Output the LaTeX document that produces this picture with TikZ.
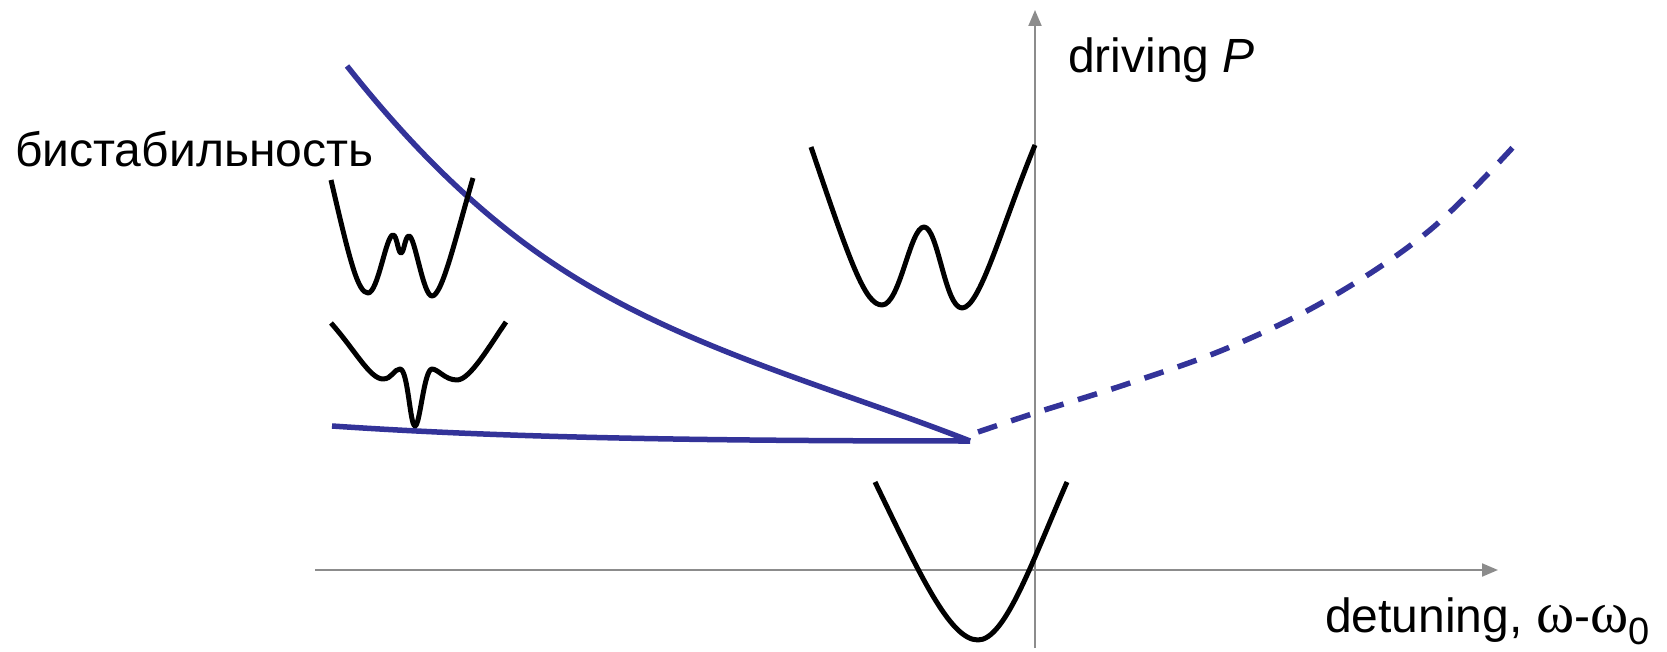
\documentclass[tikz,border=0pt]{standalone}
\usepackage{fontspec}
\setmainfont{Liberation Sans}
\newfontfamily\serifw{Liberation Serif}
\usetikzlibrary{arrows.meta}
\definecolor{curveblue}{RGB}{51,51,153}
\definecolor{axisgray}{RGB}{140,140,140}
\begin{document}
\begin{tikzpicture}[x=1pt,y=-1pt,
  axisline/.style={draw=axisgray, line width=2pt,
    -{Triangle[length=16pt,width=13pt]}},
  branch/.style={draw=curveblue, line width=5.5pt},
  unstable/.style={branch, dash pattern=on 20pt off 15pt},
  potential/.style={draw=black, line width=5pt, line join=round},
  lbl/.style={font=\fontsize{48}{56}\selectfont, inner sep=0pt, anchor=base west}]
\useasboundingbox (0,0) rectangle (1667,652);

% axes
\coordinate (xs) at (315,570);
\coordinate (xe) at (1498,570);
\coordinate (ys) at (1035,648);
\coordinate (ye) at (1035,10);
\draw[axisline] (xs) -- (xe);
\draw[axisline] (ys) -- (ye);

% stable branches
\coordinate (cusp) at (970,441);
\draw[branch] (332,426) .. controls (480,436) and (650,441) .. (cusp);
\draw[branch] (347,66) .. controls (408,143) and (477,214) .. (560,268)
  .. controls (684,349) and (832,387) .. (cusp);
% unstable branch
\draw[unstable] plot[smooth, tension=0.6] coordinates {(978,432) (1035,413) (1130,383) (1230,347) (1330,298) (1430,230) (1515,145)};

% potential: triple well (top left)
\draw[potential] (331,180) .. controls (350,262) and (358,293) .. (368,293)
  .. controls (378,293) and (386,235) .. (393,235)
  .. controls (397,235) and (398,253) .. (401,253)
  .. controls (404,253) and (405,236) .. (409,236)
  .. controls (415,236) and (423,296) .. (432,296)
  .. controls (442,296) and (455,240) .. (473,178);

% potential: deep single well with shoulders
\draw[potential] (331,323) .. controls (355,350) and (370,379) .. (383,379)
  .. controls (392,379) and (394,369) .. (400,369)
  .. controls (408,369) and (410,426) .. (415,426)
  .. controls (420,426) and (424,369) .. (432,369)
  .. controls (438,369) and (445,380) .. (457,380)
  .. controls (470,380) and (490,345) .. (506,322);

% potential: double well (middle)
\draw[potential] (811,147) .. controls (850,262) and (865,305) .. (882,305)
  .. controls (900,305) and (910,227) .. (924,227)
  .. controls (938,227) and (945,308) .. (962,308)
  .. controls (980,308) and (1002,225) .. (1035,145);

% potential: single well (bottom)
\draw[potential] (875,482) .. controls (920,575) and (950,640) .. (978,640)
  .. controls (1005,640) and (1032,562) .. (1067,482);

% labels
\node[lbl] (bist) at (15,167) {бистабильность};
\node[lbl] (drv) at (1068,73) {driving \textit{P}};
\node[lbl] (det) at (1325,632) {detuning, {\serifw\fontsize{58}{60}\selectfont ω}-{\serifw\fontsize{58}{60}\selectfont ω}\raisebox{-12pt}{\fontsize{38}{40}\selectfont 0}};
\end{tikzpicture}
\end{document}
